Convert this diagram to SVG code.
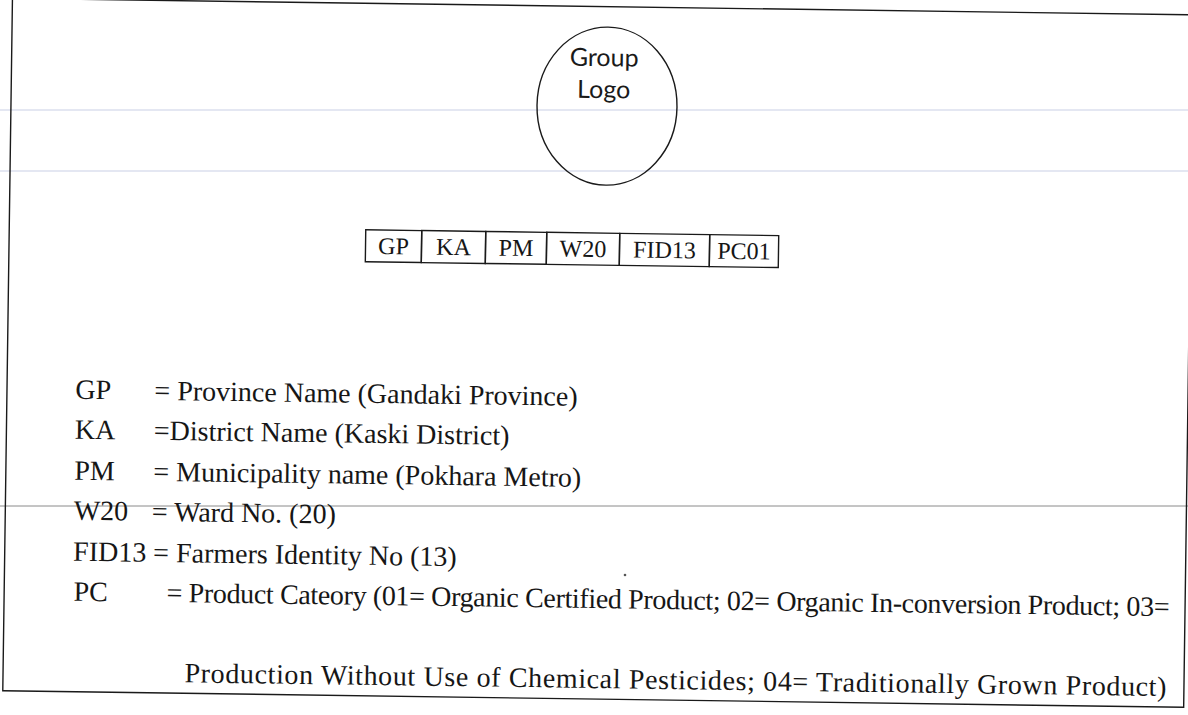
<svg xmlns="http://www.w3.org/2000/svg" width="1188" height="715" viewBox="0 0 1188 715">
  <style>
    .ink{fill:none;stroke:#1a1a1a;stroke-width:1.4}
    .serif{font-family:"Liberation Serif","Times New Roman",serif;font-size:28px;fill:#161616}
    .cell{font-family:"Liberation Serif","Times New Roman",serif;font-size:24px;fill:#161616;text-anchor:middle}
    .sans{font-family:Lato,"Open Sans","Liberation Sans",sans-serif;font-size:25px;fill:#1a1a1a;text-anchor:middle}
    .scan{stroke:#c9d0e6;stroke-width:1.2}
  </style>
  <rect width="1188" height="715" fill="#ffffff"/>
  <g id="scan-lines">
    <line class="scan" x1="0" y1="110" x2="1188" y2="110"/>
    <line class="scan" x1="0" y1="171" x2="1188" y2="171"/>
    <line x1="0" y1="506" x2="1188" y2="506" stroke="#8a8a8a" stroke-width="1"/>
    <circle cx="625" cy="575" r="1.3" fill="#555"/>
  </g>
  <g transform="rotate(0.8 594 357)">
    <g id="frame">
      <rect class="ink" x="7.5" y="6.5" width="1181" height="692.5" stroke-width="1.6"/>
    </g>
    <g id="logo">
      <ellipse class="ink" cx="603.5" cy="106" rx="70" ry="79"/>
      <text class="sans" x="600" y="66">Group</text>
      <text class="sans" x="600" y="98">Logo</text>
    </g>
    <g id="code-table">
      <g id="cell-GP"><rect class="ink" x="364" y="233" width="56" height="32"/><text class="cell" x="392" y="257">GP</text></g>
      <g id="cell-KA"><rect class="ink" x="420" y="233" width="64" height="32"/><text class="cell" x="452" y="257">KA</text></g>
      <g id="cell-PM"><rect class="ink" x="484" y="233" width="61" height="32"/><text class="cell" x="514.5" y="257">PM</text></g>
      <g id="cell-W20"><rect class="ink" x="545" y="233" width="73" height="32"/><text class="cell" x="581.5" y="257">W20</text></g>
      <g id="cell-FID13"><rect class="ink" x="618" y="233" width="90" height="32"/><text class="cell" x="663" y="257">FID13</text></g>
      <g id="cell-PC01"><rect class="ink" x="708" y="233" width="69" height="32"/><text class="cell" x="742.5" y="257">PC01</text></g>
    </g>
    <g id="legend">
      <g id="legend-GP"><text class="serif" x="76" y="406">GP</text><text class="serif" x="155" y="406">= Province Name (Gandaki Province)</text></g>
      <g id="legend-KA"><text class="serif" x="76" y="446">KA</text><text class="serif" x="155" y="446">=District Name (Kaski District)</text></g>
      <g id="legend-PM"><text class="serif" x="76" y="487">PM</text><text class="serif" x="155" y="487">= Municipality name (Pokhara Metro)</text></g>
      <g id="legend-W20"><text class="serif" x="76" y="527">W20</text><text class="serif" x="154" y="527">= Ward No. (20)</text></g>
      <g id="legend-FID13"><text class="serif" x="76" y="568">FID13</text><text class="serif" x="156" y="568">= Farmers Identity No (13)</text></g>
      <g id="legend-PC">
        <text class="serif" x="77" y="608">PC</text>
        <text class="serif" x="170" y="608" textLength="1003" lengthAdjust="spacing">= Product Cateory (01= Organic Certified Product; 02= Organic In-conversion Product; 03=</text>
        <text class="serif" x="189" y="688" textLength="982" lengthAdjust="spacing">Production Without Use of Chemical Pesticides; 04= Traditionally Grown Product)</text>
      </g>
    </g>
    <g id="connectors"/>
  </g>
</svg>
